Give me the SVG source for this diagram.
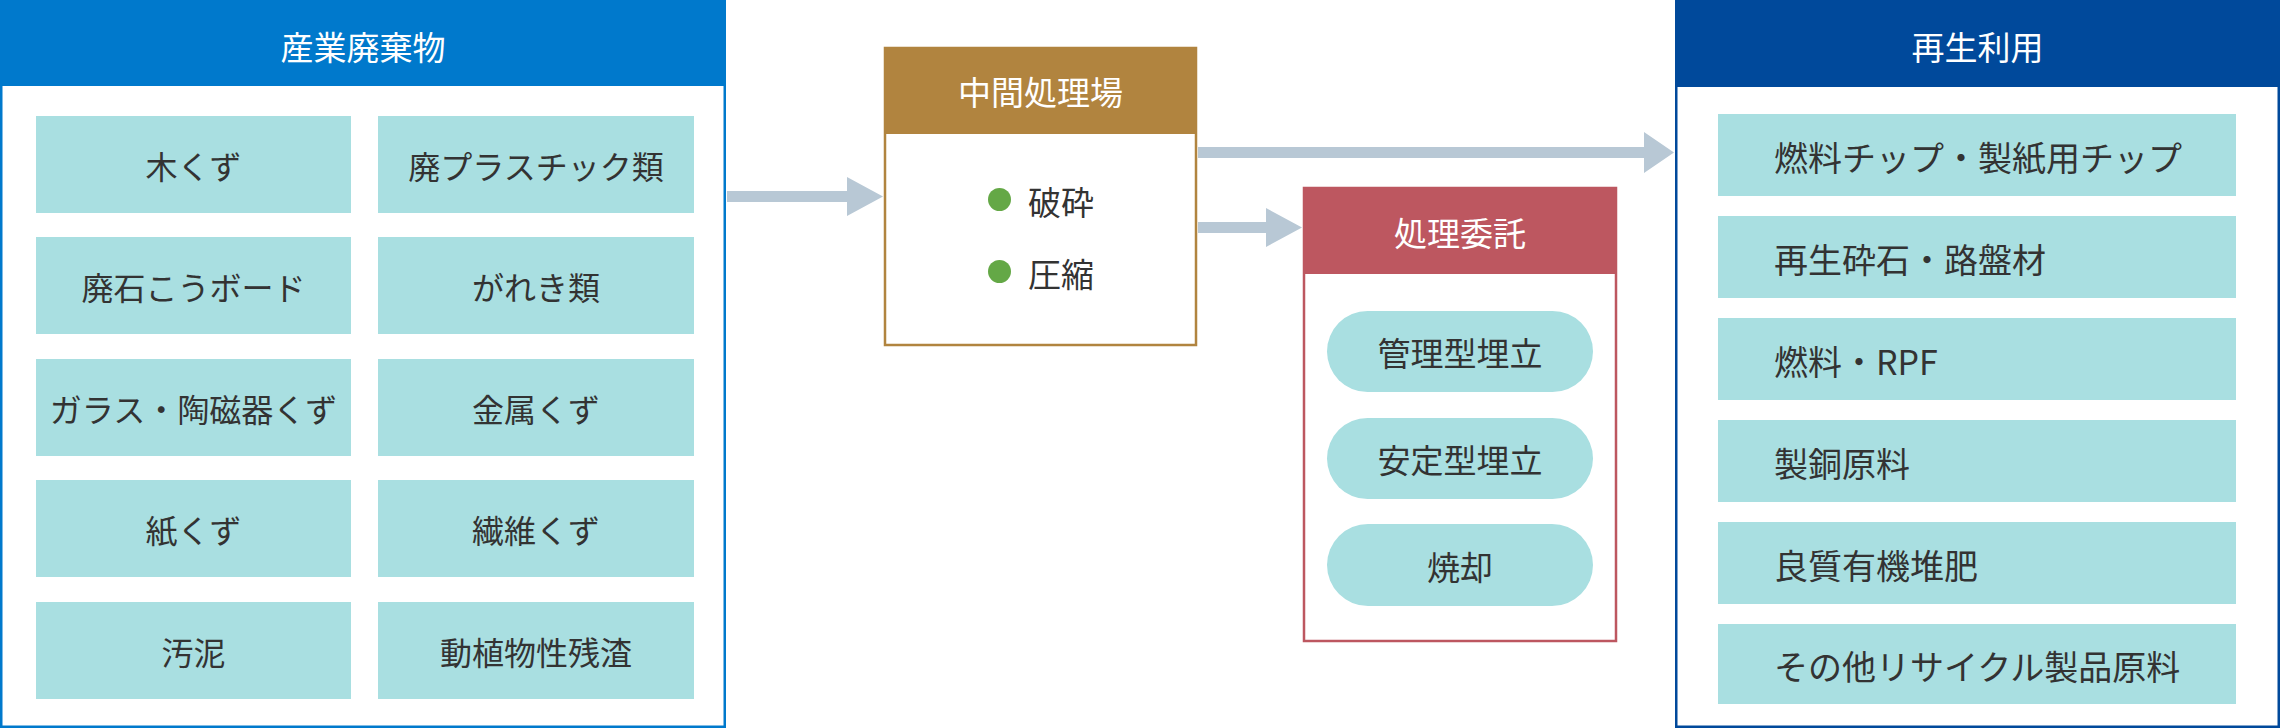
<svg xmlns="http://www.w3.org/2000/svg" width="2280" height="728" viewBox="0 0 2280 728">
<style>
text{font-family:"Noto Sans CJK JP","Noto Sans",sans-serif;dominant-baseline:central}
.hd{fill:#fff;font-size:33px;text-anchor:middle}
.cell{fill:#A9DFE1}
.ct{fill:#333;font-size:32px;text-anchor:middle}
.pt{fill:#333;font-size:33px;text-anchor:middle}
.rt{fill:#333;font-size:34px;text-anchor:start}
.arrow{fill:#B8C8D5}
</style>
<rect width="2280" height="728" fill="#fff"/>
<g id="sangyo">
<rect x="1.25" y="1.25" width="723.5" height="725.5" fill="#fff" stroke="#0079CC" stroke-width="2.5"/>
<rect x="0" y="0" width="726" height="86" fill="#0079CC"/>
<text class="hd" x="363" y="46">産業廃棄物</text>
<rect class="cell" x="36" y="116" width="315" height="97"/>
<rect class="cell" x="378" y="116" width="316" height="97"/>
<rect class="cell" x="36" y="237" width="315" height="97"/>
<rect class="cell" x="378" y="237" width="316" height="97"/>
<rect class="cell" x="36" y="359" width="315" height="97"/>
<rect class="cell" x="378" y="359" width="316" height="97"/>
<rect class="cell" x="36" y="480" width="315" height="97"/>
<rect class="cell" x="378" y="480" width="316" height="97"/>
<rect class="cell" x="36" y="602" width="315" height="97"/>
<rect class="cell" x="378" y="602" width="316" height="97"/>
<text class="ct" x="193.5" y="165">木くず</text>
<text class="ct" x="536" y="165">廃プラスチック類</text>
<text class="ct" x="193.5" y="286">廃石こうボード</text>
<text class="ct" x="536" y="286">がれき類</text>
<text class="ct" x="193.5" y="408">ガラス・陶磁器くず</text>
<text class="ct" x="536" y="408">金属くず</text>
<text class="ct" x="193.5" y="529">紙くず</text>
<text class="ct" x="536" y="529">繊維くず</text>
<text class="ct" x="193.5" y="651">汚泥</text>
<text class="ct" x="536" y="651">動植物性残渣</text>
</g>
<g id="chukan">
<rect x="885" y="48" width="311" height="297" fill="#fff" stroke="#B1843F" stroke-width="2.5"/>
<rect x="884" y="47" width="313" height="87" fill="#B1843F"/>
<text class="hd" x="1040.5" y="91">中間処理場</text>
<circle cx="999.5" cy="199.5" r="11.5" fill="#64A846"/>
<circle cx="999.5" cy="271.5" r="11.5" fill="#64A846"/>
<text x="1028" y="201" fill="#333" font-size="33">破砕</text>
<text x="1028" y="273" fill="#333" font-size="33">圧縮</text>
</g>
<g id="itaku">
<rect x="1304" y="188" width="312" height="453" fill="#fff" stroke="#BD5760" stroke-width="2.5"/>
<rect x="1303" y="187" width="314" height="87" fill="#BD5760"/>
<text class="hd" x="1460" y="232">処理委託</text>
<rect class="cell" x="1327" y="311" width="266" height="81" rx="40.5"/>
<rect class="cell" x="1327" y="418" width="266" height="81" rx="40.5"/>
<rect class="cell" x="1327" y="524" width="266" height="82" rx="41"/>
<text class="pt" x="1460" y="352">管理型埋立</text>
<text class="pt" x="1460" y="459">安定型埋立</text>
<text class="pt" x="1460" y="566">焼却</text>
</g>
<g id="saisei">
<rect x="1676.25" y="1.25" width="602.5" height="725.5" fill="#fff" stroke="#00499B" stroke-width="2.5"/>
<rect x="1675" y="0" width="605" height="87" fill="#00499B"/>
<text class="hd" x="1977.5" y="46">再生利用</text>
<rect class="cell" x="1718" y="114" width="518" height="82"/>
<rect class="cell" x="1718" y="216" width="518" height="82"/>
<rect class="cell" x="1718" y="318" width="518" height="82"/>
<rect class="cell" x="1718" y="420" width="518" height="82"/>
<rect class="cell" x="1718" y="522" width="518" height="82"/>
<rect class="cell" x="1718" y="624" width="518" height="80"/>
<text class="rt" x="1774" y="156">燃料チップ・製紙用チップ</text>
<text class="rt" x="1774" y="258">再生砕石・路盤材</text>
<text class="rt" x="1774" y="360">燃料・RPF</text>
<text class="rt" x="1774" y="462">製銅原料</text>
<text class="rt" x="1774" y="564">良質有機堆肥</text>
<text class="rt" x="1774" y="665">その他リサイクル製品原料</text>
</g>
<g id="connectors">
<polygon class="arrow" points="727,191 847,191 847,177 883,196.5 847,216 847,202 727,202"/>
<polygon class="arrow" points="1198,147 1644,147 1644,132 1674,152.5 1644,173 1644,158 1198,158"/>
<polygon class="arrow" points="1198,222 1266,222 1266,208 1302,227.5 1266,247 1266,233 1198,233"/>
</g>
</svg>
